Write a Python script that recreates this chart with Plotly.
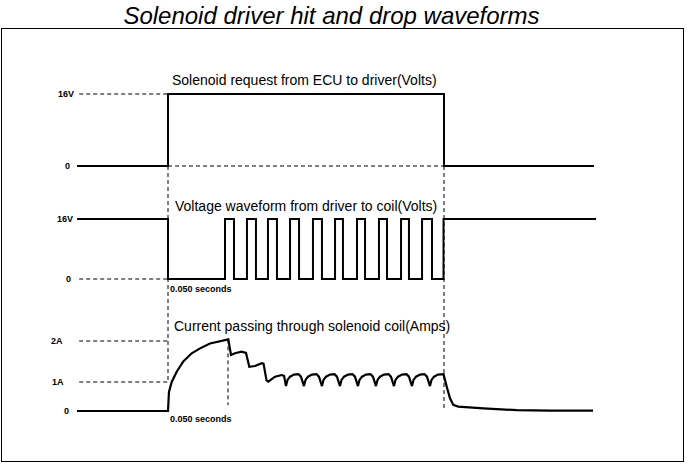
import numpy as np
import plotly.graph_objects as go

# ---------------- data (time in ms from the ECU request; volts / amps) ----------------
request_t = [-75.8, 0.0, 230.0, 355.0]
request_v = [0, 16, 0, 0]

volt_t = [-75.8, 0.0,
          47.5, 55.0, 65.8, 73.3, 83.3, 90.8, 101.7, 109.2, 120.8, 128.3,
          139.2, 145.8, 157.5, 164.2, 175.8, 182.5, 194.2, 200.8, 211.7, 220.0,
          229.6, 356.7]
volt_v = [16, 0,
          16, 0, 16, 0, 16, 0, 16, 0, 16, 0,
          16, 0, 16, 0, 16, 0, 16, 0, 16, 0,
          16, 16]

current_t = [-75.8, 0.0, 0.8, 3.1, 7.25, 12.75, 19.75, 26.7, 35.0, 43.3, 50.25,
             52.5, 55.8, 61.4, 65.0, 67.75, 72.5, 78.1, 79.6, 82.1, 83.6, 89.2, 94.75, 96.7, 98.3,
             99.6, 101.7, 105.0, 108.75, 110.8, 113.3,
             114.6, 116.7, 120.0, 123.75, 125.8, 128.3,
             129.6, 131.7, 135.0, 138.75, 140.8, 143.3,
             144.6, 146.7, 150.0, 153.75, 155.8, 158.3,
             159.6, 161.7, 165.0, 168.75, 170.8, 173.3,
             174.6, 176.7, 180.0, 183.75, 185.8, 188.3,
             189.6, 191.7, 195.0, 198.75, 200.8, 203.3,
             204.6, 206.7, 210.0, 213.75, 215.8, 218.3,
             219.6, 221.7, 225.0, 229.6,
             232.25, 235.0, 237.75, 241.9, 262.75, 290.6, 318.3, 354.2]
current_a = [0.0, 0.0, 0.66, 1.0, 1.25, 1.5, 1.7, 1.82, 1.94, 2.0, 2.04,
             1.66, 1.70, 1.74, 1.71, 1.37, 1.39, 1.46, 1.45, 1.04, 1.01, 1.13, 1.17, 1.15, 0.86,
             1.05, 1.13, 1.18, 1.19, 1.13, 0.86,
             1.05, 1.13, 1.18, 1.19, 1.13, 0.86,
             1.05, 1.13, 1.18, 1.19, 1.13, 0.86,
             1.05, 1.13, 1.18, 1.19, 1.13, 0.86,
             1.05, 1.13, 1.18, 1.19, 1.13, 0.86,
             1.05, 1.13, 1.18, 1.19, 1.13, 0.86,
             1.05, 1.13, 1.18, 1.19, 1.13, 0.86,
             1.05, 1.13, 1.18, 1.19, 1.13, 0.86,
             1.05, 1.13, 1.18, 1.19,
             0.84, 0.44, 0.21, 0.15, 0.09, 0.03, 0.01, 0.01]

hit_end_t = 50.0          # 0.050 seconds
off_t = 230.0
peak_a = 2.04

volt_tick_vals = [0, 16]
volt_tick_text = ["0", "16V"]
amp_tick_vals = [0, 1, 2]
amp_tick_text = ["0", "1A", "2A"]

title_text = "Solenoid driver hit and drop waveforms"
panel_titles = ["Solenoid request from ECU to driver(Volts)",
                "Voltage waveform from driver to coil(Volts)",
                "Current passing through solenoid coil(Amps)"]
hit_label = "0.050 seconds"

# ---------------- layout of the three stacked panels (vertical placement) ----------------
REQ_BASE, REQ_SCALE = 295.0, 4.5
VOLT_BASE, VOLT_SCALE = 182.0, 3.75
AMP_LEVELS, AMP_POS = [0, 1, 2], [50.0, 79.0, 120.0]


def y_req(v):
    return REQ_BASE + np.asarray(v, dtype=float) * REQ_SCALE


def y_volt(v):
    return VOLT_BASE + np.asarray(v, dtype=float) * VOLT_SCALE


def y_amp(a):
    a = np.asarray(a, dtype=float)
    hi = AMP_POS[2] + (a - 2) * (AMP_POS[2] - AMP_POS[1])
    return np.where(a > 2, hi, np.interp(a, AMP_LEVELS, AMP_POS))


FONT = "Liberation Sans, Arial, sans-serif"
solid = dict(color="black", width=2)
dashed = dict(color="black", width=1, dash="4px,3px")
ref_start = -74.0

fig = go.Figure()


def add_line(x, y, line, shape="linear"):
    fig.add_trace(go.Scatter(x=list(x), y=list(np.atleast_1d(y)), mode="lines",
                             line=dict(shape=shape, **line), hoverinfo="skip",
                             showlegend=False))


# dashed reference lines
add_line([ref_start, 0], y_req([16, 16]), dashed)
add_line([0, off_t], y_req([0, 0]), dashed)
add_line([ref_start, 0], y_volt([0, 0]), dashed)
add_line([ref_start, 0], y_amp([2, 2]), dashed)
add_line([ref_start, 0], y_amp([1, 1]), dashed)
add_line([0, 0], [float(y_req(0)), float(y_amp(1))], dashed)
add_line([hit_end_t, hit_end_t], [float(y_amp(peak_a)), float(y_amp(0.2))], dashed)
add_line([off_t, off_t], [float(y_req(0)), float(y_amp(0))], dashed)

# waveforms
add_line(request_t, y_req(request_v), solid, shape="hv")
add_line(volt_t, y_volt(volt_v), solid, shape="hv")
add_line(current_t, y_amp(current_a), dict(color="black", width=2.2))

annotations = []
tick_font = dict(family=FONT, size=9, color="black", weight="bold")
for val, txt, xpos in zip(volt_tick_vals, volt_tick_text, [-83.8, -84.6]):
    annotations.append(dict(x=xpos, y=float(y_req(val)), text=txt, showarrow=False,
                            xanchor="center", yanchor="middle", font=tick_font))
for val, txt, xpos in zip(volt_tick_vals, volt_tick_text, [-83.3, -85.5]):
    annotations.append(dict(x=xpos, y=float(y_volt(val)), text=txt, showarrow=False,
                            xanchor="center", yanchor="middle", font=tick_font))
for val, txt, xpos in zip(amp_tick_vals, amp_tick_text, [-85.0, -91.3, -92.9]):
    annotations.append(dict(x=xpos, y=float(y_amp(val)), text=txt, showarrow=False,
                            xanchor="center", yanchor="middle", font=tick_font))

title_font = dict(family=FONT, size=14, color="black")
for txt, xpos, ypos in zip(panel_titles, [1.7, 4.2, 3.3], [381, 255, 135]):
    annotations.append(dict(x=xpos, y=ypos, text=txt, showarrow=False,
                            xanchor="left", yanchor="middle", font=title_font))

for ypos in [172, 42]:
    annotations.append(dict(x=0, y=ypos, text=hit_label, showarrow=False,
                            xanchor="left", yanchor="middle",
                            font=dict(family=FONT, size=9, color="black", weight="bold")))

fig.update_layout(
    width=687, height=464,
    margin=dict(l=2, r=4, t=29, b=3),
    paper_bgcolor="white", plot_bgcolor="white",
    title=dict(text=title_text, x=331.5 / 687, xanchor="center",
               y=1 - 16 / 464, yanchor="middle", yref="container",
               font=dict(family=FONT, size=24, color="black", style="italic")),
    xaxis=dict(range=[(2 - 168) / 1.2, (683 - 168) / 1.2], showgrid=False, zeroline=False,
               showticklabels=False, ticks="", showline=True, mirror=True,
               linecolor="black", linewidth=1, fixedrange=True),
    yaxis=dict(range=[0, 432], showgrid=False, zeroline=False, showticklabels=False,
               ticks="", showline=True, mirror=True, linecolor="black", linewidth=1,
               fixedrange=True),
    annotations=annotations,
    showlegend=False,
)

fig.write_html("out.html", config={"displayModeBar": False},
               post_script="document.body.style.margin='0';document.body.style.overflow='hidden';")
